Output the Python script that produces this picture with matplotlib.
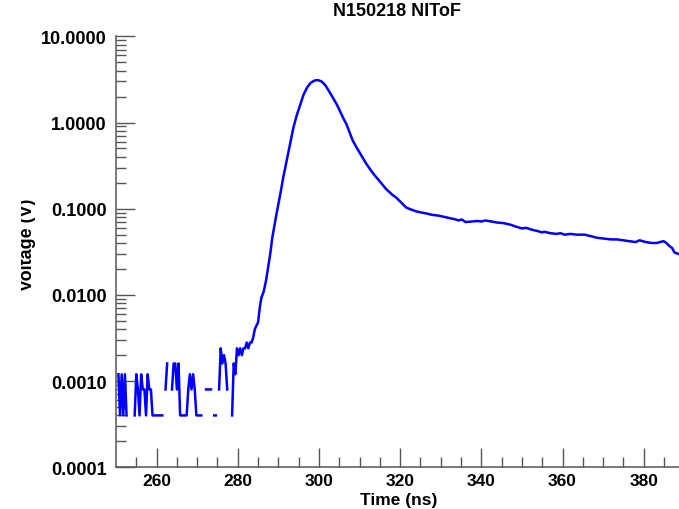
import matplotlib
matplotlib.use('Agg')
import matplotlib.pyplot as plt
import numpy as np
from matplotlib.ticker import LogLocator, FixedLocator, FormatStrFormatter, NullFormatter
from matplotlib.transforms import Bbox, TransformedBbox

nan = np.nan

# digitiser noise before the pulse (V), gaps = zero / negative readings
noise_t = [250.6, 251.0, 251.4, 251.8, 252.2, 252.6, 253.0, 253.4, 253.8, 254.2,
           254.6, 255.0, 255.4, 255.8, 256.2, 256.6, 257.0, 257.4, 257.8, 258.2,
           258.6, 259.0, 259.4, 259.8, 260.2, 260.6, 261.0, 261.4, 261.8, 262.2,
           262.6, 263.0, 263.4, 263.8, 264.2, 264.6, 265.0, 265.4, 265.8, 266.2,
           266.6, 267.0, 267.4, 267.8, 268.2, 268.6, 269.0, 269.4, 269.8, 270.2,
           270.6, 271.0, 271.4, 271.8, 272.2, 272.6, 273.0, 273.4, 273.8, 274.2,
           274.6, 275.0, 275.4, 275.8, 276.2, 276.6, 277.0, 277.4, 277.8, 278.2,
           278.6, 279.0, 279.4, 279.8]
noise_v = [0.0012, 0.0004, 0.0012, 0.0004, 0.0012, 0.0004, nan, nan, nan, nan,
           0.0004, 0.0012, 0.0008, 0.0004, 0.0012, 0.0008, 0.0008, 0.0004, 0.0012, 0.0008,
           0.0008, 0.0004, 0.0004, 0.0004, 0.0004, 0.0004, 0.0004, 0.0004, nan, 0.0008,
           0.0016, nan, nan, 0.0008, 0.0016, 0.0016, 0.0008, 0.0016, 0.0004, 0.0004,
           0.0004, 0.0004, 0.0004, 0.0008, 0.0012, 0.0008, 0.0012, 0.0008, 0.0004, 0.0004,
           0.0004, 0.0004, nan, nan, 0.0008, 0.0008, 0.0008, 0.0008, nan, 0.0004,
           0.0004, nan, 0.0008, 0.0024, 0.0016, 0.0020, 0.0016, 0.0008, nan, nan,
           0.0004, 0.0016, 0.0012, 0.0024]

# pulse and tail (V)
pulse_t = [280.2, 280.6, 281.0, 281.4, 281.8, 282.2, 282.6, 283.0, 283.4, 283.8,
           284.2, 284.6, 285.0, 285.4, 285.8, 286.4, 287.0, 288.0, 288.5, 289.5,
           290.5, 291.2, 292.2, 293.0, 293.7, 294.5, 295.4, 296.2, 297.1, 298.0,
           299.0, 299.8, 300.6, 301.3, 301.9, 303.0, 304.4, 305.1, 306.0, 306.8,
           307.5, 308.3, 309.3, 310.5, 311.7, 313.0, 314.0, 314.9, 316.5, 318.0,
           319.0, 319.8, 321.5, 322.9, 324.0, 325.4, 326.5, 327.8, 329.5, 330.5,
           331.5, 332.5, 333.7, 334.4, 335.2, 336.1, 337.5, 339.0, 340.0, 341.0,
           342.5, 344.0, 345.5, 347.3, 348.5, 350.0, 351.0, 352.5, 353.9, 355.0,
           355.5, 357.0, 358.5, 359.5, 360.5, 362.0, 363.5, 365.4, 367.0, 368.5,
           370.2, 372.0, 373.5, 375.0, 376.6, 378.0, 379.0, 380.5, 382.0, 383.2,
           384.0, 384.9, 385.6, 386.3, 387.0, 387.6, 388.5]
pulse_v = [0.0020, 0.0024, 0.0020, 0.0024, 0.0024, 0.0028, 0.0024, 0.0028, 0.0028, 0.0032,
           0.0040, 0.0044, 0.0048, 0.0070, 0.0092, 0.0110, 0.0150, 0.030, 0.046, 0.085,
           0.150, 0.23, 0.39, 0.60, 0.87, 1.20, 1.62, 2.10, 2.56, 2.90,
           3.08, 3.10, 3.00, 2.80, 2.56, 2.10, 1.62, 1.38, 1.12, 0.95,
           0.78, 0.62, 0.51, 0.41, 0.33, 0.27, 0.235, 0.21, 0.17, 0.146,
           0.135, 0.124, 0.103, 0.097, 0.093, 0.090, 0.088, 0.085, 0.083, 0.081,
           0.079, 0.077, 0.075, 0.073, 0.075, 0.070, 0.071, 0.072, 0.071, 0.073,
           0.071, 0.069, 0.068, 0.065, 0.062, 0.059, 0.060, 0.057, 0.055, 0.053,
           0.054, 0.052, 0.051, 0.052, 0.050, 0.051, 0.050, 0.050, 0.048, 0.046,
           0.045, 0.044, 0.044, 0.043, 0.042, 0.041, 0.043, 0.041, 0.040, 0.040,
           0.041, 0.042, 0.040, 0.037, 0.035, 0.031, 0.030]

x_ticks = [260, 280, 300, 320, 340, 360, 380]
y_ticks = [0.0001, 0.001, 0.01, 0.1, 1.0, 10.0]

plt.rcParams['font.family'] = ['Liberation Sans', 'DejaVu Sans']
plt.rcParams['font.weight'] = 'bold'

fig = plt.figure(figsize=(6.79, 5.10), dpi=100)
ax = fig.add_axes([116 / 679, 41.7 / 510, 563 / 679, 431 / 510])

t = noise_t + pulse_t
v = noise_v + pulse_v
ax.plot(t, v, color='#0000ff', lw=1.8)

ax.set_yscale('log')
ax.set_xlim(250, 388.7)
ax.set_ylim(1e-4, 10)

for side in ['top', 'right']:
    ax.spines[side].set_visible(False)
for side in ['left', 'bottom']:
    ax.spines[side].set_color('#555555')
    ax.spines[side].set_linewidth(1.1)

ax.xaxis.set_major_locator(FixedLocator(x_ticks))
ax.xaxis.set_minor_locator(FixedLocator(list(range(255, 390, 5))))
ax.yaxis.set_major_locator(FixedLocator(y_ticks))
ax.yaxis.set_minor_locator(LogLocator(base=10, subs=np.arange(2, 10), numticks=20))
ax.yaxis.set_major_formatter(FormatStrFormatter('%.4f'))
ax.yaxis.set_minor_formatter(NullFormatter())

ax.tick_params(which='both', direction='in', color='#555555', width=1.0,
               labelcolor='black')
ax.tick_params(which='major', length=14)
ax.tick_params(which='minor', length=7)
ax.tick_params(axis='y', pad=6.5, labelsize=13)
ax.tick_params(axis='x', pad=4, labelsize=12.5)
for lab in ax.get_xticklabels() + ax.get_yticklabels():
    lab.set_fontweight('bold')

fig.text(397 / 679, 1 - 12 / 510, 'N150218 NIToF', ha='center', va='center',
         fontsize=13, fontweight='bold')
fig.text(399 / 679, 1 - 501 / 510, 'Time (ns)', ha='center', va='center',
         fontsize=12.5, fontweight='bold')
ylab = fig.text(27 / 679, 1 - 245 / 510, 'Voltage (V)', ha='center', va='center',
                rotation=90, fontsize=13, fontweight='bold')
ylab.set_clip_box(TransformedBbox(Bbox([[21 / 679, 0], [1, 1]]), fig.transFigure))
ylab.set_clip_on(True)

fig.savefig('out.png', dpi=100)
